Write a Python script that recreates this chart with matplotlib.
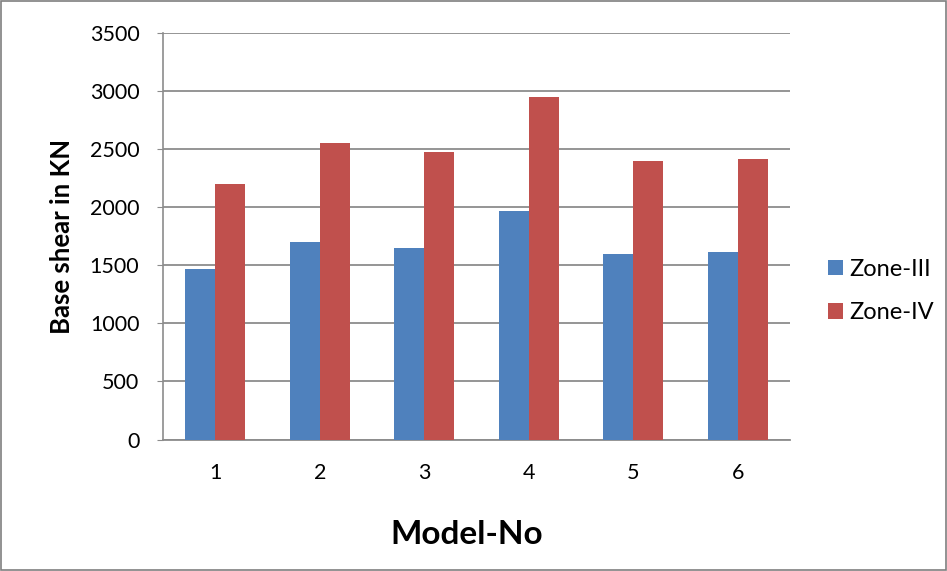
import matplotlib
matplotlib.use("Agg")
import matplotlib.pyplot as plt
import numpy as np

models = ["1", "2", "3", "4", "5", "6"]
zone_iii = [1465, 1703, 1652, 1968, 1597, 1612]
zone_iv = [2201, 2557, 2477, 2951, 2399, 2414]
y_ticks = [0, 500, 1000, 1500, 2000, 2500, 3000, 3500]

plt.rcParams['font.family'] = ['Lato', 'DejaVu Sans']

fig = plt.figure(figsize=(9.47, 5.71), dpi=100)
W, H = 947, 571
ax = fig.add_axes([163 / W, 1 - 439.5 / H, (790 - 163) / W, (439.5 - 33) / H])

x = np.arange(len(models))
bw = 0.2857
ax.bar(x - bw / 2, zone_iii, width=bw, color="#4F81BD", label="Zone-III", zorder=3)
ax.bar(x + bw / 2, zone_iv, width=bw, color="#C0504D", label="Zone-IV", zorder=3)

ax.set_xlim(-0.5, len(models) - 0.5)
ax.set_ylim(0, 3500)
ax.set_yticks(y_ticks)
ax.set_yticklabels([str(v) for v in y_ticks], fontsize=15.5)
ax.set_xticks(x)
ax.set_xticklabels(models, fontsize=15.5)
ax.yaxis.grid(True, color="#8c8c8c", linewidth=1.3, zorder=0)
ax.set_axisbelow(True)

for s in ["top", "right"]:
    ax.spines[s].set_visible(False)
ax.spines["left"].set_color("#8c8c8c")
ax.spines["bottom"].set_color("#8c8c8c")
ax.spines["left"].set_linewidth(1.2)
ax.spines["bottom"].set_linewidth(1.3)
ax.tick_params(axis="y", length=4, color="#8c8c8c", pad=13)
ax.tick_params(axis="x", length=0, pad=17)

fig.text(62 / W, 1 - 236 / H, "Base shear in KN", fontsize=18.5, fontweight="bold",
         rotation=90, ha="center", va="center")
fig.text(467 / W, 1 - 535 / H, "Model-No", fontsize=24, fontweight="bold",
         ha="center", va="center")

fig.legend(loc="center left", bbox_to_anchor=(828 / W, 1 - 291 / H),
           frameon=False, fontsize=17, handlelength=0.65, handleheight=0.65,
           handletextpad=0.25, labelspacing=0.95, borderpad=0, borderaxespad=0)

# thin frame around the whole figure
fig.patches.append(plt.Rectangle((0.001, 0.001), 0.998, 0.997, transform=fig.transFigure,
                                 fill=False, edgecolor="#7f7f7f", linewidth=1.2))

fig.savefig("out.png", dpi=100)
